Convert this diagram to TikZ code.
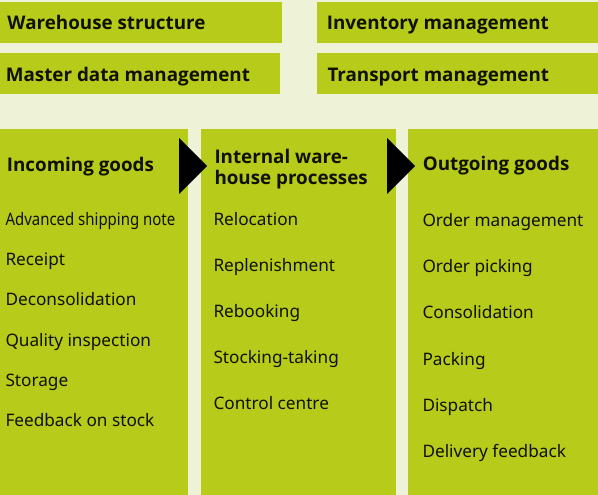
\documentclass[tikz,border=0pt]{standalone}
\usepackage{fontspec}
\setmainfont{Noto Sans}
\newfontfamily\hfont{Open Sans}
\usepackage{graphicx}
\definecolor{bg}{HTML}{EEF2D6}
\definecolor{grn}{HTML}{B6CB1A}
\definecolor{ink}{HTML}{111100}
\begin{document}
\begin{tikzpicture}[x=1pt,y=-1pt,
  box/.style={fill=grn, draw=none, anchor=north west, inner sep=0pt},
  head/.style={anchor=base west, inner sep=0pt, font=\fontsize{18.8}{21}\selectfont\hfont\bfseries, text=ink},
  item/.style={anchor=base west, inner sep=0pt, font=\fontsize{17.2}{21}\selectfont, text=ink},
  tri/.style={fill=black}]
\fill[bg] (0,0) rectangle (598,495);
\useasboundingbox (0,0) rectangle (598,495);
% top boxes
\node[box, minimum width=282pt, minimum height=40.5pt] (ws) at (0,2.3) {};
\node[box, minimum width=280pt, minimum height=41pt] (md) at (0,53) {};
\node[box, minimum width=281pt, minimum height=40.5pt] (im) at (317,2.3) {};
\node[box, minimum width=281pt, minimum height=41pt] (tm) at (317,53) {};
\node[head] (tws) at (7.3,30) {Warehouse structure};
\node[head] (tmd) at (5.7,81.5) {Master data management};
\node[head] (tim) at (326.7,30) {Inventory management};
\node[head] (ttm) at (327.3,81.5) {Transport management};
% columns
\node[box, minimum width=188pt, minimum height=366pt] (c1) at (0,129) {};
\node[box, minimum width=195pt, minimum height=366pt] (c2) at (201,129) {};
\node[box, minimum width=190pt, minimum height=366pt] (c3) at (408,129) {};
% arrows
\coordinate (a1t) at (179,138); \coordinate (a1b) at (179,194); \coordinate (a1p) at (207,166);
\coordinate (a2t) at (387,138); \coordinate (a2b) at (387,194); \coordinate (a2p) at (415,166);
\fill[tri] (a1t) -- (a1p) -- (a1b) -- cycle;
\fill[tri] (a2t) -- (a2p) -- (a2b) -- cycle;
% headers
\node[head] (h1) at (6.7,171.5) {Incoming goods};
\node[head] (h2a) at (214.3,163.3) {Internal ware-};
\node[head] (h2b) at (214.3,184.3) {house processes};
\node[head] (h3) at (422.7,170.8) {Outgoing goods};
% column 1
\node[item] (i11) at (5.3,225) {\scalebox{0.87}[1]{Advanced shipping note}};
\node[item] (i12) at (5.3,265.3) {Receipt};
\node[item] (i13) at (5.3,305.6) {Deconsolidation};
\node[item] (i14) at (5.3,346) {Quality inspection};
\node[item] (i15) at (5.3,386.3) {Storage};
\node[item] (i16) at (5.3,426.6) {Feedback on stock};
% column 2
\node[item] (i21) at (213.3,225) {Relocation};
\node[item] (i22) at (213.3,271) {Replenishment};
\node[item] (i23) at (213.3,317) {Rebooking};
\node[item] (i24) at (213.3,363) {Stocking-taking};
\node[item] (i25) at (213.3,409) {Control centre};
% column 3
\node[item] (i31) at (422.3,226) {Order management};
\node[item] (i32) at (422.3,272) {Order picking};
\node[item] (i33) at (422.3,318.5) {Consolidation};
\node[item] (i34) at (422.3,365) {Packing};
\node[item] (i35) at (422.3,411) {Dispatch};
\node[item] (i36) at (422.3,457) {Delivery feedback};
\end{tikzpicture}
\end{document}
